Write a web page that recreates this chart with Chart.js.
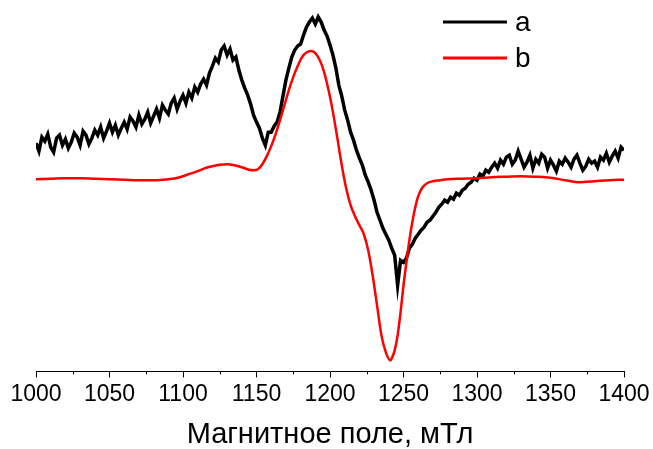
<!DOCTYPE html>
<html lang="ru">
<head>
<meta charset="utf-8">
<title>Магнитное поле, мТл</title>
<script src="https://cdn.jsdelivr.net/npm/chart.js@4.4.1/dist/chart.umd.min.js"></script>
<style>
    html, body { margin: 0; padding: 0; background: #fff; }
    #contenedor { width: 653px; height: 449px; position: relative; }
</style>
</head>
<body>
<div id="contenedor"><canvas id="grafica"></canvas></div>
<script>
// Кривая a: эксперимент, поле от 1000 мТл с шагом 2 мТл
const inicioA = 1000;
const pasoA = 2;
const senalA = [
    228, 220, 234, 230, 237, 224, 219, 233, 236, 226,
    232, 223, 229, 238, 234, 226, 240, 236, 227, 233,
    241, 236, 244, 233, 240, 248, 239, 246, 236, 243,
    249, 242, 254, 250, 244, 256, 247, 252, 259, 248,
    255, 262, 253, 266, 261, 257, 268, 273, 262, 270,
    276, 268, 279, 273, 284, 279, 287, 292, 286, 298,
    305, 313, 309, 321, 325, 316, 322, 311, 314, 301,
    291, 283, 276, 267, 256, 249, 243, 233, 226, 239,
    239, 245, 249, 259, 275, 291, 303, 314, 321, 325,
    327, 336, 344, 349, 353, 347, 354, 349, 341, 335,
    326, 316, 303, 286, 275, 261, 251, 239, 231, 221,
    213, 206, 196, 189, 181, 171, 159, 151, 143, 137,
    131, 123, 116, 86, 111, 109, 113, 123, 127, 133,
    137, 141, 144, 149, 151, 155, 159, 164, 167, 171,
    169, 174, 172, 178, 176, 181, 183, 187, 189, 193,
    191, 197, 195, 201, 199, 204, 208, 203, 211, 207,
    214, 216, 207, 211, 220, 212, 204, 209, 216, 203,
    212, 208, 217, 214, 203, 211, 206, 200, 210, 207,
    213, 209, 204, 212, 216, 208, 201, 205, 212, 208,
    210, 204, 214, 211, 218, 209, 215, 220, 213, 224,
    221
];

// Кривая b: моделирование
const campoB = [
    1000, 1010, 1020, 1030, 1040, 1050, 1060, 1070, 1080, 1090,
    1095, 1100, 1105, 1110, 1115, 1120, 1125, 1130, 1135, 1140,
    1145, 1148, 1151, 1154, 1157, 1160, 1163, 1166, 1169, 1172,
    1175, 1178, 1181, 1184, 1187, 1190, 1193, 1196, 1199, 1202,
    1205, 1208, 1211, 1214, 1217, 1220, 1223, 1226, 1229, 1232,
    1235, 1238, 1241, 1242, 1244, 1246, 1248, 1250, 1252, 1254,
    1256, 1258, 1260, 1263, 1266, 1270, 1275, 1280, 1290, 1300,
    1310, 1320, 1330, 1340, 1350, 1360, 1370, 1380, 1390, 1400
];
const senalB = [
    192, 192.5, 193, 193, 192.5, 192, 191.5, 191, 191, 192,
    193, 195, 197.5, 200, 203, 205, 206.5, 207, 206, 204,
    201.5, 201, 202, 207, 215, 225, 237, 251, 266, 281,
    294, 305, 314, 318.5, 320, 318, 311, 299, 281, 259,
    233, 206, 183, 166, 155, 146, 137, 121, 96, 66,
    36, 19, 11, 13, 21, 36, 59, 86, 109, 131,
    149, 164, 175, 184, 188, 190, 191, 192, 192.5, 193,
    194, 194.5, 195, 194.5, 193.5, 191, 189, 190, 191, 191.5
];

const etiquetas = ['a', 'b'];
const tituloEje = 'Магнитное поле, мТл';
const fuente = '"Liberation Sans", Arial, sans-serif';

// Малые деления и легенда рисуются отдельно
const marcasMenores = {
    id: 'marcasMenores',
    afterDraw(chart) {
        const escala = chart.scales.x;
        const ctx = chart.ctx;
        const y0 = chart.chartArea.bottom;
        ctx.save();
        ctx.strokeStyle = '#000';
        ctx.lineWidth = 1;
        for (let v = escala.min + 25; v < escala.max; v += 50) {
            const x = Math.round(escala.getPixelForValue(v)) + 0.5;
            ctx.beginPath();
            ctx.moveTo(x, y0);
            ctx.lineTo(x, y0 + 3);
            ctx.stroke();
        }
        ctx.restore();
    }
};

const leyendaLineas = {
    id: 'leyendaLineas',
    afterDraw(chart) {
        const ctx = chart.ctx;
        ctx.save();
        chart.data.datasets.forEach((ds, i) => {
            const y = 22 + i * 36;
            ctx.strokeStyle = ds.borderColor;
            ctx.lineWidth = 3;
            ctx.beginPath();
            ctx.moveTo(443, y);
            ctx.lineTo(507, y);
            ctx.stroke();
            ctx.fillStyle = '#000';
            ctx.font = '28px ' + fuente;
            ctx.textBaseline = 'middle';
            ctx.fillText(ds.label, 515, y + 1);
        });
        ctx.restore();
    }
};

const ctx = document.getElementById('grafica').getContext('2d');
new Chart(ctx, {
    type: 'line',
    data: {
        datasets: [{
            label: etiquetas[0],
            data: senalA.map((v, i) => ({ x: inicioA + i * pasoA, y: v })),
            borderColor: '#000000',
            borderWidth: 3.5,
            pointRadius: 0,
            tension: 0,
            order: 1
        }, {
            label: etiquetas[1],
            data: campoB.map((x, i) => ({ x: x, y: senalB[i] })),
            borderColor: '#ff0000',
            borderWidth: 2.5,
            pointRadius: 0,
            cubicInterpolationMode: 'monotone',
            order: 0
        }]
    },
    options: {
        responsive: true,
        maintainAspectRatio: false,
        animation: false,
        layout: { padding: { left: 36, right: 29, top: 0, bottom: 0 } },
        plugins: {
            legend: { display: false },
            tooltip: { enabled: false }
        },
        scales: {
            x: {
                type: 'linear',
                min: 1000,
                max: 1400,
                ticks: {
                    stepSize: 50,
                    color: '#000',
                    padding: 3,
                    maxRotation: 0,
                    callback: (v) => String(v),
                    font: { family: fuente, size: 23 }
                },
                grid: {
                    drawOnChartArea: false,
                    tickLength: 6,
                    tickColor: '#000',
                    tickWidth: 1
                },
                border: { display: true, color: '#000', width: 1 },
                title: {
                    display: true,
                    text: tituloEje,
                    color: '#000',
                    padding: { top: 9, bottom: 0 },
                    font: { family: fuente, size: 29, lineHeight: 1 }
                }
            },
            y: {
                display: false,
                min: 0,
                max: 371
            }
        }
    },
    plugins: [marcasMenores, leyendaLineas]
});
</script>
</body>
</html>
